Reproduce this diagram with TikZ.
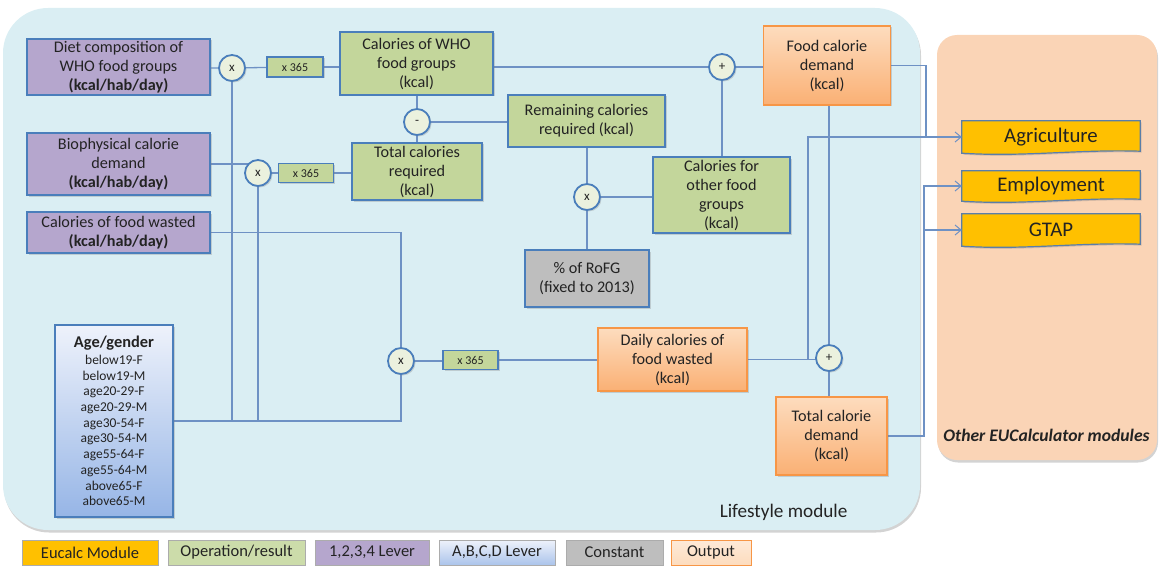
\documentclass[tikz,border=0pt]{standalone}
\usepackage{fontspec}
\setmainfont{Carlito}
\usetikzlibrary{arrows.meta,calc,shadows}
\pgfdeclarelayer{back}
\pgfdeclarelayer{wires}
\pgfsetlayers{back,wires,main}

\definecolor{edgeblue}{RGB}{74,126,187}
\definecolor{wirecol}{RGB}{110,145,196}
\definecolor{leverpurple}{RGB}{181,166,205}
\definecolor{opgreen}{RGB}{195,214,155}
\definecolor{constgray}{RGB}{190,190,190}
\definecolor{outorange}{RGB}{247,150,70}
\definecolor{outtop}{RGB}{253,220,190}
\definecolor{outbot}{RGB}{250,176,116}
\definecolor{modyellow}{RGB}{255,192,0}
\definecolor{lifeblue}{RGB}{218,238,243}
\definecolor{otherpeach}{RGB}{250,212,182}
\definecolor{agetop}{RGB}{238,242,251}
\definecolor{agebot}{RGB}{150,181,230}
\definecolor{txt}{RGB}{35,35,35}
\definecolor{circfill}{RGB}{235,241,222}

\tikzset{
  softshadow/.style={drop shadow={shadow xshift=1.5pt,shadow yshift=-1.5pt,opacity=0.3}},
  box/.style={draw=edgeblue, line width=1.2pt, align=center, inner sep=2pt,
              text=txt, font=\fontsize{16.2}{19}\selectfont, softshadow},
  lever/.style={box, fill=leverpurple},
  opbox/.style={box, fill=opgreen},
  constbox/.style={box, fill=constgray},
  outbox/.style={box, draw=outorange, top color=outtop, bottom color=outbot},
  agebox/.style={box, top color=agetop, bottom color=agebot,
                 font=\fontsize{13.5}{15.7}\selectfont},
  factor/.style={opbox, font=\fontsize{12}{13}\selectfont, inner sep=1pt},
  opcirc/.style={circle, draw=edgeblue, line width=1.8pt, fill=circfill,
                 minimum size=26pt, inner sep=0pt, text=txt,
                 font=\fontsize{13}{13}\selectfont, softshadow},
  wire/.style={draw=wirecol, line width=1.3pt},
  feed/.style={wire, -{Straight Barb[length=6pt,width=10pt,line width=1pt]}},
  module/.style={inner sep=0pt, text=txt, font=\fontsize{20.8}{22}\selectfont},
  modshape/.style={fill=modyellow, draw=edgeblue!70!gray, line width=1.2pt, softshadow},
  legend/.style={draw=gray!65, line width=1pt, minimum height=25pt, inner sep=0pt,
                 text=txt, font=\fontsize{16.5}{17}\selectfont},
}

\begin{document}
\begin{tikzpicture}[x=1pt,y=-1pt]
\useasboundingbox (0,0) rectangle (1159,567);

% module panels
\begin{pgfonlayer}{back}
  \fill[lifeblue, rounded corners=45pt,
        drop shadow={shadow xshift=1pt,shadow yshift=-2.5pt,opacity=0.35}]
    (3,8) rectangle (920,530);
  \fill[otherpeach, rounded corners=20pt,
        drop shadow={shadow xshift=1pt,shadow yshift=-2.5pt,opacity=0.35}]
    (937,35) rectangle (1157,460);
\end{pgfonlayer}

% lever inputs
\node[lever, minimum width=183pt, minimum height=56pt] (diet) at (118.5,67)
  {Diet composition of\\WHO food groups\\\textbf{(kcal/hab/day)}};
\node[lever, minimum width=183pt, minimum height=62pt] (bio) at (118.5,164)
  {Biophysical calorie\\demand\\\textbf{(kcal/hab/day)}};
\node[lever, minimum width=183pt, minimum height=41pt] (waste) at (118.5,232.5)
  {Calories of food wasted\\\textbf{(kcal/hab/day)}};
\node[agebox, minimum width=118pt, minimum height=192pt] (age) at (114,421)
  {{\fontsize{16.4}{18}\selectfont\bfseries Age/gender}\\[1pt]
   below19-F\\below19-M\\age20-29-F\\age20-29-M\\
   age30-54-F\\age30-54-M\\age55-64-F\\age55-64-M\\above65-F\\above65-M};

% operations
\node[opcirc] (m1) at (232,68) {x};
\node[factor, minimum width=56pt, minimum height=20pt] (k1) at (295,67) {x 365};
\node[opbox, minimum width=153pt, minimum height=63pt] (who) at (416.5,63.5)
  {Calories of WHO\\food groups\\(kcal)};
\node[opcirc] (m2) at (258,173) {x};
\node[factor, minimum width=55pt, minimum height=19pt] (k2) at (306,173) {x 365};
\node[opbox, minimum width=130pt, minimum height=57pt] (total) at (417,171.5)
  {Total calories\\required\\(kcal)};
\node[opcirc] (minus) at (417,122) {-};
\node[opbox, minimum width=157pt, minimum height=52pt] (remain) at (586.5,121)
  {Remaining calories\\required (kcal)};
\node[opcirc] (m3) at (587,197) {x};
\node[opbox, minimum width=137pt, minimum height=76pt] (other) at (721.5,195)
  {Calories for\\other food\\groups\\(kcal)};
\node[opcirc] (plus1) at (722,67) {+};
\node[constbox, minimum width=124pt, minimum height=57pt] (rofg) at (587,278.5)
  {\% of RoFG\\(fixed to 2013)};
\node[opcirc] (m4) at (401,361) {x};
\node[factor, minimum width=55pt, minimum height=19pt] (k3) at (470.5,360) {x 365};

% outputs
\node[outbox, minimum width=127pt, minimum height=79pt] (food) at (827,65.5)
  {Food calorie\\demand\\(kcal)};
\node[outbox, minimum width=149pt, minimum height=63pt] (daily) at (672.5,359.5)
  {Daily calories of\\food wasted\\(kcal)};
\node[opcirc] (plus2) at (829,358) {+};
\node[outbox, minimum width=111pt, minimum height=78pt] (tcd) at (831.5,436)
  {Total calorie\\demand\\(kcal)};

% other calculator modules
\node[module, minimum width=178pt, minimum height=32pt] (agri) at (1051,137) {Agriculture};
\node[module, minimum width=178pt, minimum height=30pt] (empl) at (1051,186) {Employment};
\node[module, minimum width=178pt, minimum height=32pt] (gtap) at (1051,230) {GTAP};

\begin{pgfonlayer}{wires}
  \foreach \m in {agri,empl,gtap}{
    \path[modshape] (\m.north west) -- (\m.north east) -- ($(\m.south east)+(0,-2)$)
      .. controls ($(\m.south east)!0.35!(\m.south west)+(0,-4)$)
         and ($(\m.south east)!0.65!(\m.south west)+(0,4)$) .. (\m.south west) -- cycle;
  }
\end{pgfonlayer}

% panel titles
\node[anchor=east, text=txt, font=\fontsize{19.2}{21}\selectfont] (lifestyle) at (851,512)
  {Lifestyle module};
\node[text=txt, font=\fontsize{17.6}{20}\selectfont\bfseries\itshape] (others) at (1046.5,435)
  {Other EUCalculator modules};

% junction columns
\coordinate (j1) at (808,0);
\coordinate (j2) at (926,0);
\coordinate (j3) at (924,0);

% connectors
\begin{pgfonlayer}{wires}
  \path[wire] (diet.east |- m1) -- (m1) -- (k1);
  \path[wire] (k1.east) -- (k1.east -| who.west);
  \path[wire] (m1) -- (m1 |- age.east);
  \path[wire] (bio.east) -- (bio.east -| m2);
  \path[wire] (m2) -- (k2);
  \path[wire] (k2.east) -- (k2.east -| total.west);
  \path[wire] (m2) -- (m2 |- age.east);
  \path[wire] (age.east) -- (age.east -| m4) -- (m4);
  \path[wire] (waste.east) -- (waste.east -| m4) -- (m4);
  \path[wire] (m4) -- (m4 -| k3.west);
  \path[wire] (k3.east) -- (k3.east -| daily.west);
  \path[wire] (who.east |- plus1) -- (plus1) -- (plus1 -| food.west);
  \path[wire] (minus |- who.south) -- (minus) -- (minus |- total.north);
  \path[wire] (minus) -- (minus -| remain.west);
  \path[wire] (m3 |- remain.south) -- (m3) -- (m3 |- rofg.north);
  \path[wire] (m3) -- (m3 -| other.west);
  \path[wire] (plus1 |- other.north) -- (plus1);
  \path[wire] (plus2 |- food.south) -- (plus2) -- (plus2 |- tcd.north);
  \path[wire] (daily.east) -- (daily.east -| plus2);
  \path[feed] (daily.east -| j1) -- (j1 |- agri.west) -- (agri.west);
  \path[wire] (food.east) -- (food.east -| j2) -- (j2 |- agri.west);
  \path[feed] (tcd.east) -- (tcd.east -| j3) -- (j3 |- empl.west) -- (empl.west);
  \path[feed] (j3 |- gtap.west) -- (gtap.west);
\end{pgfonlayer}

% legend
\node[legend, fill=modyellow, minimum width=136pt] (leg1) at (90,552.5) {Eucalc Module};
\node[legend, fill=opgreen!85!white, minimum width=137pt] (leg2) at (236.5,552.5) {Operation/result};
\node[legend, fill=leverpurple, minimum width=114pt] (leg3) at (372,552.5) {1,2,3,4 Lever};
\node[legend, top color=agetop, bottom color=agebot!80!white, minimum width=116pt] (leg4) at (497,552.5) {A,B,C,D Lever};
\node[legend, fill=constgray, minimum width=97pt] (leg5) at (614.5,552.5) {Constant};
\node[legend, draw=outorange, top color=outtop!60!white, bottom color=outtop, minimum width=80pt] (leg6) at (711,552.5) {Output};
\end{tikzpicture}
\end{document}
